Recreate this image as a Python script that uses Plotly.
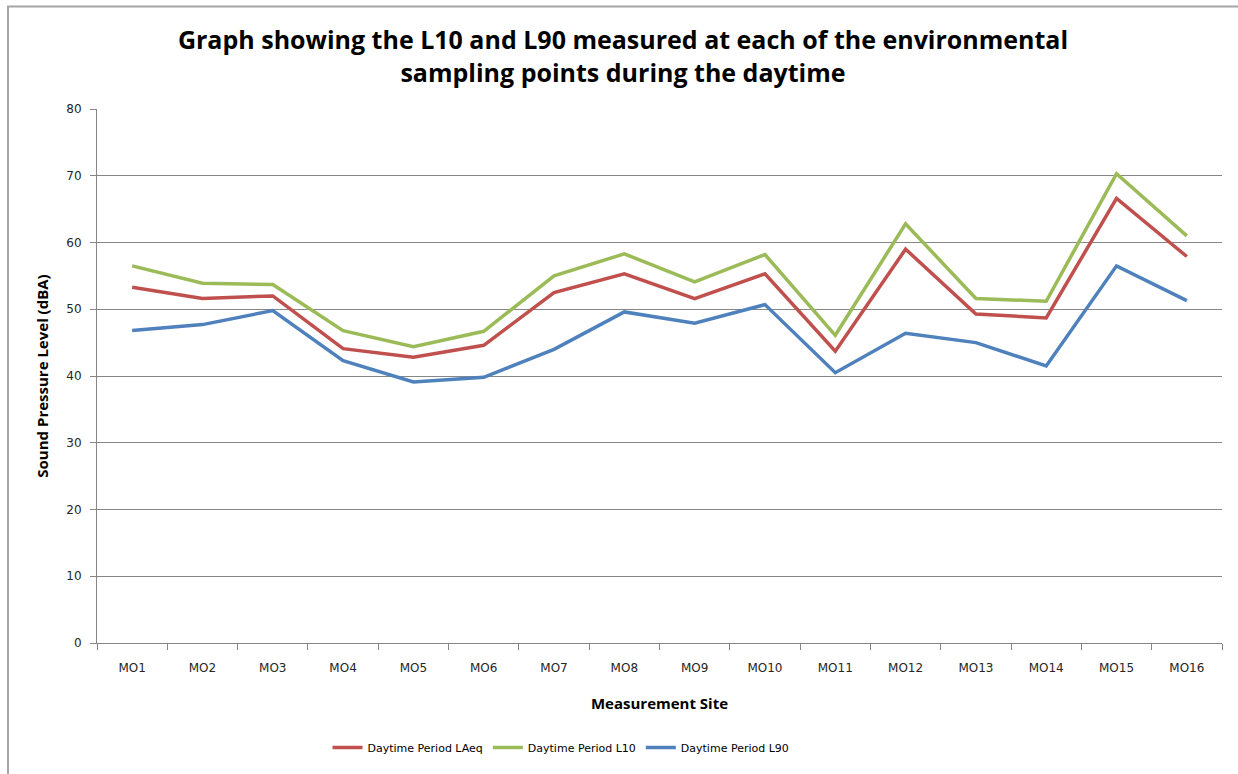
import plotly.graph_objects as go

sites = ["MO1", "MO2", "MO3", "MO4", "MO5", "MO6", "MO7", "MO8",
         "MO9", "MO10", "MO11", "MO12", "MO13", "MO14", "MO15", "MO16"]
laeq = [53.3, 51.6, 52.0, 44.1, 42.8, 44.6, 52.5, 55.3,
        51.6, 55.3, 43.7, 59.0, 49.3, 48.7, 66.6, 57.9]
l10 = [56.5, 53.9, 53.7, 46.8, 44.4, 46.7, 55.0, 58.3,
       54.1, 58.2, 46.1, 62.8, 51.6, 51.2, 70.3, 61.0]
l90 = [46.8, 47.7, 49.8, 42.3, 39.1, 39.8, 44.0, 49.6,
       47.9, 50.7, 40.5, 46.4, 45.0, 41.5, 56.5, 51.3]

series = [
    ("Daytime Period LAeq", laeq, "#C0504D"),
    ("Daytime Period L10", l10, "#9BBB59"),
    ("Daytime Period L90", l90, "#4F81BD"),
]

fig = go.Figure()
for name, vals, col in series:
    fig.add_trace(go.Scatter(x=sites, y=vals, name=name, mode="lines",
                             line=dict(color=col, width=3.5)))

W, H = 1238, 774
L, R, T, B = 97, 16, 109, 128
pw, ph = W - L - R, H - T - B

fig.update_layout(
    width=W, height=H,
    margin=dict(l=L, r=R, t=T, b=B),
    paper_bgcolor="white", plot_bgcolor="white",
    title=dict(text="<b>Graph showing the L10 and L90 measured at each of the environmental<br>sampling points during the daytime</b>",
               x=623 / W, xanchor="center", y=1 - 49 / H, yanchor="middle",
               font=dict(family="Open Sans", size=25, color="#000000")),
    font=dict(family="DejaVu Sans", size=12, color="#262626"),
    xaxis=dict(type="category", tickson="boundaries", ticks="outside", ticklen=6,
               tickcolor="#868686", showline=True, linecolor="#868686", linewidth=1,
               showgrid=False, range=[-0.5, 15.5], ticklabelstandoff=14,
               title=dict(text="<b>Measurement Site</b>", standoff=24,
                          font=dict(family="Open Sans", size=15, color="#000000"))),
    yaxis=dict(range=[0, 80], dtick=10, ticks="outside", ticklen=6,
               tickcolor="#868686", showline=True, linecolor="#868686", linewidth=1,
               gridcolor="#868686", gridwidth=1, zeroline=False, ticklabelstandoff=6,
               title=dict(text="<b>Sound Pressure Level (dBA)</b>", standoff=14,
                          font=dict(family="Open Sans", size=15, color="#000000"))),
    legend=dict(orientation="h", x=(561 - L) / pw, xanchor="center",
                y=-(751 - 646) / ph, yanchor="middle",
                font=dict(family="DejaVu Sans", size=11, color="#000000"),
                itemwidth=30, tracegroupgap=0),
    showlegend=True,
)

# outer chart frame
fig.add_shape(type="rect", xref="paper", yref="paper",
              x0=(8 - L) / pw, x1=(W + 5 - L) / pw,
              y0=-(H + 5 - T - ph) / ph, y1=(646 - 6) / ph,
              line=dict(color="#A6A6A6", width=2), fillcolor="rgba(0,0,0,0)", layer="below")

fig.write_html("out.html")
